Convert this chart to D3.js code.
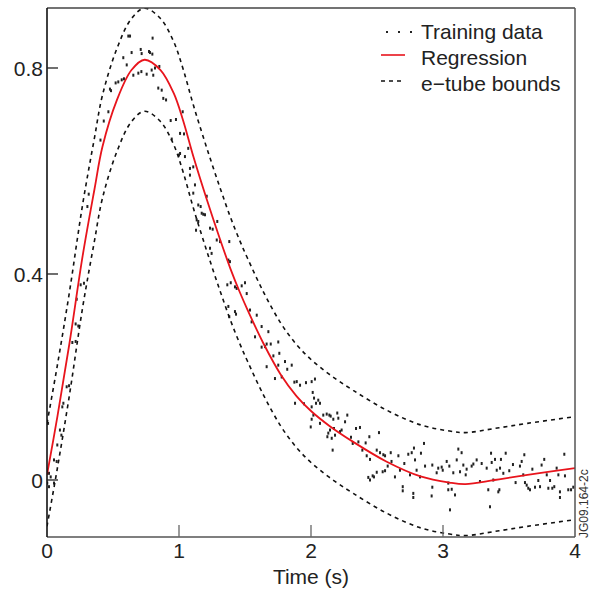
<!DOCTYPE html>
<html>
<head>
<meta charset="utf-8">
<script src="https://cdn.jsdelivr.net/npm/d3@7"></script>
<style>
  html, body { margin: 0; padding: 0; background: #fff; }
  svg { display: block; font-family: "Liberation Sans", Arial, Helvetica, sans-serif; }
</style>
</head>
<body>
<svg id="chart" width="596" height="592"></svg>
<script>
// ---- data ----
const regT = [0, 0.08, 0.17, 0.27, 0.36, 0.42, 0.53, 0.64, 0.74, 0.86, 0.96, 1.03, 1.11, 1.21, 1.31, 1.39, 1.46, 1.52, 1.64, 1.77, 1.89, 2.0, 2.14, 2.32, 2.57, 2.83, 3.05, 3.17, 3.39, 3.64, 4.0];
const regV = [0.01, 0.125, 0.265, 0.435, 0.565, 0.647, 0.738, 0.796, 0.816, 0.796, 0.751, 0.699, 0.627, 0.545, 0.468, 0.41, 0.365, 0.33, 0.265, 0.205, 0.163, 0.134, 0.105, 0.074, 0.036, 0.007, -0.005, -0.008, 0.0, 0.01, 0.023];
const upperV = [0.11, 0.225, 0.365, 0.535, 0.665, 0.747, 0.838, 0.896, 0.916, 0.896, 0.851, 0.799, 0.727, 0.645, 0.568, 0.51, 0.465, 0.43, 0.365, 0.305, 0.263, 0.234, 0.205, 0.174, 0.136, 0.107, 0.095, 0.092, 0.1, 0.11, 0.123];
const lowerV = [-0.09, 0.025, 0.165, 0.335, 0.465, 0.547, 0.638, 0.696, 0.716, 0.696, 0.651, 0.599, 0.527, 0.445, 0.368, 0.31, 0.265, 0.23, 0.165, 0.105, 0.063, 0.034, 0.005, -0.026, -0.064, -0.093, -0.105, -0.108, -0.1, -0.09, -0.077];

const trainT = [0.002,0.008,0.015,0.015,0.028,0.053,0.053,0.073,0.078,0.098,0.109,0.116,0.124,0.149,0.167,0.192,0.217,0.217,0.225,0.237,0.255,0.28,0.306,0.316,0.405,0.43,0.465,0.477,0.485,0.52,0.54,0.566,0.578,0.583,0.604,0.616,0.629,0.641,0.654,0.692,0.71,0.715,0.717,0.755,0.773,0.78,0.793,0.798,0.80,0.805,0.818,0.843,0.851,0.869,0.881,0.902,0.937,0.945,0.977,1.0,1.008,1.008,1.028,1.038,1.045,1.07,1.083,1.083,1.108,1.108,1.121,1.129,1.134,1.146,1.146,1.164,1.172,1.184,1.197,1.21,1.235,1.235,1.247,1.255,1.286,1.29,1.311,1.366,1.374,1.374,1.381,1.381,1.386,1.392,1.424,1.424,1.432,1.437,1.475,1.5,1.513,1.538,1.55,1.576,1.589,1.626,1.626,1.652,1.664,1.664,1.677,1.695,1.715,1.727,1.752,1.752,1.76,1.778,1.803,1.82,1.854,1.874,1.879,1.892,1.917,1.947,1.962,1.998,2.005,2.005,2.005,2.013,2.018,2.023,2.03,2.038,2.055,2.068,2.068,2.093,2.119,2.124,2.131,2.139,2.144,2.149,2.157,2.164,2.169,2.174,2.182,2.199,2.207,2.22,2.232,2.258,2.275,2.303,2.316,2.341,2.359,2.371,2.389,2.414,2.422,2.434,2.442,2.447,2.447,2.467,2.477,2.498,2.498,2.515,2.523,2.543,2.548,2.561,2.561,2.581,2.604,2.61,2.636,2.662,2.674,2.695,2.695,2.707,2.737,2.75,2.763,2.775,2.775,2.78,2.788,2.8,2.826,2.833,2.856,2.864,2.914,2.919,2.919,2.952,2.964,2.99,2.998,3.028,3.04,3.04,3.048,3.053,3.066,3.078,3.091,3.104,3.116,3.129,3.141,3.154,3.172,3.179,3.217,3.23,3.255,3.28,3.293,3.331,3.343,3.356,3.364,3.369,3.381,3.394,3.407,3.419,3.427,3.432,3.439,3.457,3.475,3.502,3.53,3.55,3.583,3.596,3.608,3.616,3.621,3.634,3.646,3.659,3.677,3.697,3.722,3.735,3.747,3.767,3.786,3.798,3.811,3.828,3.843,3.861,3.874,3.886,3.886,3.919,3.924,3.949,3.97,3.987];
const trainV = [-0.006,0.11,0.013,-0.013,0.006,0.039,-0.006,0.036,0.068,0.097,0.087,0.142,0.149,0.181,0.183,0.267,0.269,0.303,0.351,0.299,0.379,0.382,0.531,0.555,0.66,0.697,0.715,0.759,0.756,0.771,0.773,0.777,0.82,0.779,0.806,0.862,0.862,0.83,0.786,0.79,0.836,0.793,0.828,0.788,0.832,0.83,0.796,0.827,0.858,0.786,0.80,0.761,0.803,0.757,0.741,0.738,0.698,0.662,0.70,0.631,0.673,0.634,0.715,0.672,0.628,0.644,0.605,0.592,0.608,0.557,0.573,0.485,0.505,0.534,0.502,0.531,0.518,0.516,0.515,0.551,0.489,0.45,0.44,0.487,0.466,0.502,0.463,0.379,0.427,0.337,0.463,0.317,0.424,0.383,0.375,0.327,0.322,0.372,0.377,0.383,0.362,0.33,0.307,0.278,0.32,0.298,0.258,0.259,0.264,0.22,0.288,0.264,0.241,0.197,0.268,0.223,0.246,0.2,0.23,0.215,0.223,0.19,0.149,0.191,0.184,0.148,0.189,0.103,0.191,0.142,0.118,0.17,0.126,0.159,0.196,0.149,0.155,0.149,0.11,0.126,0.128,0.084,0.091,0.126,0.097,0.124,0.081,0.058,0.118,0.1,0.087,0.13,0.12,0.094,0.097,0.113,0.126,0.083,0.071,0.1,0.074,0.102,0.058,0.072,0.047,0.005,0.084,0.04,0.0,0.008,0.006,0.058,0.015,0.092,0.053,0.016,0.049,0.047,0.018,0.027,0.053,0.036,0.006,0.047,0.019,-0.013,-0.021,0.032,0.05,0.01,0.053,-0.026,-0.034,0.062,0.039,0.019,0.006,0.052,0.071,0.027,-0.031,0.029,-0.014,0.014,0.023,0.025,0.019,0.036,-0.006,-0.019,0.027,-0.058,-0.018,0.014,-0.029,0.039,0.06,0.016,0.053,0.029,0.01,0.021,0.027,0.031,0.039,-0.003,0.032,0.023,-0.019,-0.052,0.052,0.034,0.0,0.04,0.019,-0.023,-0.019,0.023,0.04,0.013,0.052,0.018,0.03,-0.005,0.027,0.036,0.01,0.049,-0.005,-0.01,-0.016,-0.019,0.021,-0.014,-0.001,-0.013,0.029,0.04,0.01,-0.016,-0.001,-0.016,-0.013,0.023,0.01,-0.023,-0.034,0.05,0.008,-0.019,-0.019,-0.014];

const xTicks = [0, 1, 2, 3, 4];
const yTicks = [0, 0.4, 0.8];
const legendLabels = ["Training data", "Regression", "e\u2212tube bounds"];
const xTitle = "Time (s)";
const sideLabel = "JG09.164-2c";

// ---- layout ----
const svg = d3.select("#chart");
const L = 47, R = 575, T = 8, B = 537;
const x = d3.scaleLinear().domain([0, 4]).range([L, R]);
const y = d3.scaleLinear().domain([-0.1107, 0.9165]).range([B, T]);
const FS = 21;

svg.append("defs").append("clipPath").attr("id", "clip")
  .append("rect").attr("x", L).attr("y", T).attr("width", R - L).attr("height", B - T);

const plot = svg.append("g").attr("clip-path", "url(#clip)");

// training data dots
const train = trainT.map((t, i) => ({ t, v: trainV[i] }));
plot.selectAll("rect.dot").data(train).enter().append("rect")
  .attr("class", "dot")
  .attr("x", d => x(d.t) - 1)
  .attr("y", d => y(d.v) - 1.5)
  .attr("width", 2).attr("height", 3)
  .attr("fill", "#222");

const lineOf = vals => d3.line()
  .x((d, i) => x(regT[i]))
  .y(d => y(d))
  .curve(d3.curveCatmullRom.alpha(0.5))(vals);

plot.append("path").attr("d", lineOf(upperV))
  .attr("fill", "none").attr("stroke", "#111").attr("stroke-width", 1.6)
  .attr("stroke-dasharray", "4,4");
plot.append("path").attr("d", lineOf(lowerV))
  .attr("fill", "none").attr("stroke", "#111").attr("stroke-width", 1.6)
  .attr("stroke-dasharray", "4,4");
plot.append("path").attr("d", lineOf(regV))
  .attr("fill", "none").attr("stroke", "#e8141c").attr("stroke-width", 1.8);

// frame
svg.append("line").attr("x1", L).attr("x2", R).attr("y1", T).attr("y2", T).attr("stroke", "#444").attr("stroke-width", 1.5);
svg.append("line").attr("x1", R).attr("x2", R).attr("y1", T).attr("y2", B).attr("stroke", "#555").attr("stroke-width", 1.5);
svg.append("line").attr("x1", L).attr("x2", R).attr("y1", B).attr("y2", B).attr("stroke", "#555").attr("stroke-width", 1.5);
svg.append("line").attr("x1", L).attr("x2", L).attr("y1", T).attr("y2", B).attr("stroke", "#111").attr("stroke-width", 1.6);

// y ticks
yTicks.forEach(v => {
  svg.append("line").attr("x1", L).attr("x2", L + 11).attr("y1", y(v)).attr("y2", y(v))
    .attr("stroke", "#222").attr("stroke-width", 1.3);
  svg.append("text").attr("x", 43).attr("y", y(v) + 8)
    .attr("text-anchor", "end").attr("font-size", FS).attr("fill", "#222")
    .text(v === 0 ? "0" : d3.format(".1f")(v));
});
// x ticks
xTicks.forEach(t => {
  if (t > 0 && t < 4) {
    svg.append("line").attr("x1", x(t)).attr("x2", x(t)).attr("y1", B - 12).attr("y2", B)
      .attr("stroke", "#666").attr("stroke-width", 1.3);
  }
  svg.append("text").attr("x", x(t)).attr("y", 558)
    .attr("text-anchor", "middle").attr("font-size", FS).attr("fill", "#222")
    .text(t);
});
svg.append("text").attr("x", (L + R) / 2).attr("y", 584)
  .attr("text-anchor", "middle").attr("font-size", FS).attr("fill", "#222")
  .text(xTitle);

// side label
svg.append("text").attr("transform", "translate(588,538) rotate(-90)")
  .attr("font-size", 12).attr("fill", "#333").text(sideLabel);

// legend
const lg = svg.append("g");
const legY = [32, 55, 81];
const textY = [39, 65, 91];
[387, 399, 411].forEach(px => {
  lg.append("rect").attr("x", px - 1).attr("y", legY[0] - 1).attr("width", 2).attr("height", 2).attr("fill", "#222");
});
lg.append("line").attr("x1", 381).attr("x2", 405).attr("y1", legY[1]).attr("y2", legY[1])
  .attr("stroke", "#e8141c").attr("stroke-width", 1.6);
lg.append("line").attr("x1", 381).attr("x2", 404).attr("y1", legY[2]).attr("y2", legY[2])
  .attr("stroke", "#111").attr("stroke-width", 1.6).attr("stroke-dasharray", "4,4");
legendLabels.forEach((s, i) => {
  lg.append("text").attr("x", 421).attr("y", textY[i]).attr("font-size", FS).attr("fill", "#222").text(s);
});
</script>
</body>
</html>
